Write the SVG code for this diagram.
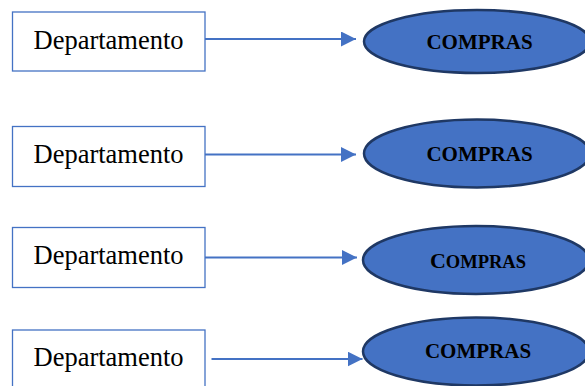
<svg xmlns="http://www.w3.org/2000/svg" width="585" height="386" viewBox="0 0 585 386">
  <style>
    .box { fill: #ffffff; stroke: #4472C4; stroke-width: 1.3; }
    .dept { font-family: "Liberation Serif", "Times New Roman", serif; font-size: 26.5px; fill: #000000; }
    .oval { fill: #4472C4; stroke: #1F3864; stroke-width: 2.5; }
    .label { font-family: "Liberation Serif", "Times New Roman", serif; font-size: 21px; font-weight: bold; fill: #000000; text-anchor: middle; }
    .link { stroke: #4472C4; stroke-width: 2; fill: none; marker-end: url(#head); }
  </style>
  <defs>
    <marker id="head" viewBox="0 0 15 15" refX="15" refY="7.5" markerWidth="15" markerHeight="15" markerUnits="userSpaceOnUse" orient="auto">
      <path d="M0,0 L15,7.5 L0,15 Z" fill="#4472C4"/>
    </marker>
  </defs>

  <rect width="585" height="386" fill="#ffffff"/>

  <!-- connectors -->
  <g id="connectors">
    <line class="link" x1="205" y1="39" x2="356" y2="39"/>
    <line class="link" x1="205" y1="154.5" x2="356" y2="154.5"/>
    <line class="link" x1="205" y1="257.5" x2="357" y2="257.5"/>
    <line class="link" x1="211.5" y1="359" x2="362.5" y2="359"/>
  </g>

  <!-- row 1 -->
  <g id="dept1">
    <rect class="box" x="12.5" y="12" width="192.5" height="59"/>
    <text class="dept" x="33.5" y="49">Departamento</text>
  </g>
  <g id="compras1">
    <ellipse class="oval" cx="477" cy="41.5" rx="113" ry="31.5"/>
    <text class="label" x="479.5" y="49">COMPRAS</text>
  </g>

  <!-- row 2 -->
  <g id="dept2">
    <rect class="box" x="12.5" y="126.5" width="192.5" height="60"/>
    <text class="dept" x="33.5" y="162.5">Departamento</text>
  </g>
  <g id="compras2">
    <ellipse class="oval" cx="477" cy="153.5" rx="113" ry="34"/>
    <text class="label" x="479.5" y="160.5">COMPRAS</text>
  </g>

  <!-- row 3 -->
  <g id="dept3">
    <rect class="box" x="12.5" y="227.5" width="192.5" height="60"/>
    <text class="dept" x="33.5" y="263.5">Departamento</text>
  </g>
  <g id="compras3">
    <ellipse class="oval" cx="476" cy="260" rx="113" ry="34"/>
    <text class="label" x="478" y="267.5"><tspan font-size="22">C</tspan><tspan font-size="18.5">OMPRAS</tspan></text>
  </g>

  <!-- row 4 -->
  <g id="dept4">
    <rect class="box" x="12.5" y="330" width="192.5" height="60"/>
    <text class="dept" x="33.5" y="365.5">Departamento</text>
  </g>
  <g id="compras4">
    <ellipse class="oval" cx="476" cy="351.5" rx="113" ry="34"/>
    <text class="label" x="478" y="357.5">COMPRAS</text>
  </g>
</svg>
